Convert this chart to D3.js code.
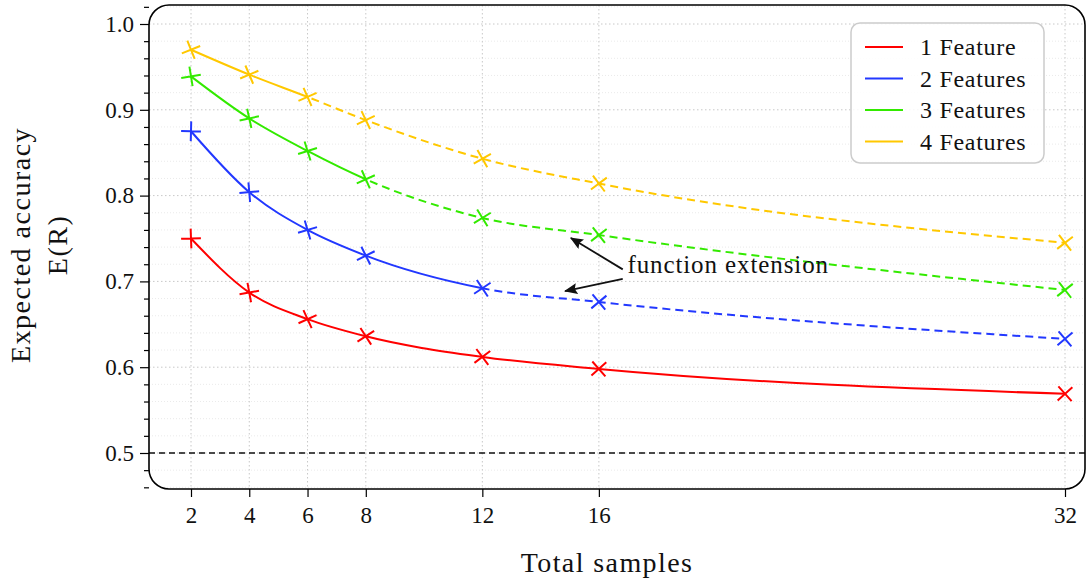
<!DOCTYPE html>
<html>
<head>
<meta charset="utf-8">
<script src="https://cdn.jsdelivr.net/npm/d3@7"></script>
<style>
  body { margin: 0; background: #fff; }
  text { font-family: "Liberation Serif", "DejaVu Serif", serif; fill: #111; }
</style>
</head>
<body>
<svg id="chart"></svg>
<script>
// data
const samples = [2, 4, 6, 8, 12, 16, 32];
const feat1 = [0.750, 0.687, 0.656, 0.636, 0.612, 0.598, 0.569];
const feat2 = [0.875, 0.804, 0.760, 0.730, 0.692, 0.676, 0.633];
const feat3 = [0.939, 0.890, 0.852, 0.819, 0.774, 0.754, 0.690];
const feat4 = [0.970, 0.941, 0.915, 0.888, 0.843, 0.814, 0.745];
const seriesNames = ["1 Feature", "2 Features", "3 Features", "4 Features"];
const seriesColors = ["#ff0000", "#2238ff", "#33ea00", "#ffc800"];
// sample count after which the line is an extension (dashed)
const dashFrom = [Infinity, 12, 8, 6];
const yTicks = [0.5, 0.6, 0.7, 0.8, 0.9, 1.0];

const W = 1086, H = 582;
const box = {left: 149, top: 5, right: 1085, bottom: 489};

const svg = d3.select("#chart").attr("width", W).attr("height", H);

const x = d3.scaleLinear().domain([2, 32]).range([191, 1065]);
const y = d3.scaleLinear().domain([0.5, 1.0]).range([453, 24]);

const allSeries = [feat1, feat2, feat3, feat4].map((vals, i) => ({
  name: seriesNames[i], color: seriesColors[i], dash: dashFrom[i],
  pts: samples.map((s, j) => ({x: s, y: vals[j]}))
}));

// clip for the whole plot area
const defs = svg.append("defs");
defs.append("clipPath").attr("id", "plotclip")
  .append("rect")
  .attr("x", box.left).attr("y", box.top)
  .attr("width", box.right - box.left).attr("height", box.bottom - box.top)
  .attr("rx", 20);

const plot = svg.append("g").attr("clip-path", "url(#plotclip)");

// minor grid
const minor = d3.range(0.46, 1.03, 0.02).filter(v => Math.abs(v * 10 - Math.round(v * 10)) > 0.01);
plot.selectAll(".gminor").data(minor).enter().append("line")
  .attr("x1", box.left).attr("x2", box.right)
  .attr("y1", d => y(d)).attr("y2", d => y(d))
  .attr("stroke", "#e4e4e4").attr("stroke-width", 0.8).attr("stroke-dasharray", "1,2");

// major grid
plot.selectAll(".gy").data(yTicks).enter().append("line")
  .attr("x1", box.left).attr("x2", box.right)
  .attr("y1", d => y(d)).attr("y2", d => y(d))
  .attr("stroke", "#c8c8c8").attr("stroke-width", 1).attr("stroke-dasharray", "1.5,2.5");
plot.selectAll(".gx").data(samples).enter().append("line")
  .attr("y1", box.top).attr("y2", box.bottom)
  .attr("x1", d => x(d)).attr("x2", d => x(d))
  .attr("stroke", "#c8c8c8").attr("stroke-width", 1).attr("stroke-dasharray", "1.5,2.5");

// chance level
plot.append("line")
  .attr("x1", box.left).attr("x2", box.right)
  .attr("y1", y(0.5)).attr("y2", y(0.5))
  .attr("stroke", "#111").attr("stroke-width", 1.5).attr("stroke-dasharray", "6,4");

const line = d3.line().x(d => x(d.x)).y(d => y(d.y)).curve(d3.curveMonotoneX);

allSeries.forEach((s, i) => {
  const split = s.dash === Infinity ? box.right + 10 : x(s.dash);
  defs.append("clipPath").attr("id", "solid" + i)
    .append("rect").attr("x", 0).attr("y", 0).attr("width", split).attr("height", H);
  defs.append("clipPath").attr("id", "dash" + i)
    .append("rect").attr("x", split).attr("y", 0).attr("width", W - split).attr("height", H);
  const g = plot.append("g");
  g.append("path").datum(s.pts).attr("d", line)
    .attr("clip-path", `url(#solid${i})`)
    .attr("fill", "none").attr("stroke", s.color).attr("stroke-width", 2);
  g.append("path").datum(s.pts).attr("d", line)
    .attr("clip-path", `url(#dash${i})`)
    .attr("fill", "none").attr("stroke", s.color).attr("stroke-width", 2)
    .attr("stroke-dasharray", "8,5");
});

// markers: an x rotated along the local direction of the line
allSeries.forEach(s => {
  const P = s.pts.map(p => [x(p.x), y(p.y)]);
  P.forEach((p, j) => {
    const a = P[Math.max(j - 1, 0)], b = P[Math.min(j + 1, P.length - 1)];
    const ang = Math.atan2(b[1] - a[1], b[0] - a[0]) * 180 / Math.PI;
    plot.append("path")
      .attr("d", "M-7,-7L7,7M-7,7L7,-7")
      .attr("transform", `translate(${p[0]},${p[1]}) rotate(${ang})`)
      .attr("stroke", s.color).attr("stroke-width", 2).attr("fill", "none");
  });
});

// frame with rounded corners
svg.append("rect")
  .attr("x", box.left).attr("y", box.top)
  .attr("width", box.right - box.left).attr("height", box.bottom - box.top)
  .attr("rx", 20).attr("fill", "none").attr("stroke", "#000").attr("stroke-width", 1.6);

// axes
svg.append("g").attr("transform", `translate(${box.left},0)`)
  .call(d3.axisLeft(y).tickValues(yTicks).tickFormat(d3.format(".1f")).tickSize(9).tickPadding(6));
svg.append("g").attr("transform", `translate(${box.left},0)`)
  .call(d3.axisLeft(y).tickValues(minor).tickFormat("").tickSize(5));
svg.append("g").attr("transform", `translate(0,${box.bottom})`)
  .call(d3.axisBottom(x).tickValues(samples).tickFormat(d3.format("d")).tickSize(8).tickPadding(10));
svg.selectAll(".domain").remove();
svg.selectAll(".tick line").attr("stroke", "#000").attr("stroke-width", 1.2);
svg.selectAll(".tick text").attr("font-size", 23).attr("font-family", "Liberation Serif").attr("fill", "#111");

// axis titles
svg.append("text").attr("x", 607).attr("y", 572).attr("text-anchor", "middle")
  .attr("font-size", 28).attr("letter-spacing", 1.4).text("Total samples");
svg.append("text").attr("transform", "translate(30,245) rotate(-90)").attr("text-anchor", "middle")
  .attr("font-size", 28).attr("letter-spacing", 1.5).text("Expected accuracy");
svg.append("text").attr("transform", "translate(67,245) rotate(-90)").attr("text-anchor", "middle")
  .attr("font-size", 28).attr("letter-spacing", 1.5).text("E(R)");

// annotation
defs.append("marker").attr("id", "arrow").attr("viewBox", "0 0 12 10")
  .attr("refX", 11).attr("refY", 5).attr("markerWidth", 14).attr("markerHeight", 11)
  .attr("markerUnits", "userSpaceOnUse").attr("orient", "auto")
  .append("path").attr("d", "M0,0L12,5L0,10L2,5Z").attr("fill", "#111");
const arrows = [
  {from: [16.82, 0.7140], to: [15.04, 0.7506]},
  {from: [16.82, 0.7030], to: [14.84, 0.6888]}
];
arrows.forEach(a => {
  svg.append("line")
    .attr("x1", x(a.from[0])).attr("y1", y(a.from[1]))
    .attr("x2", x(a.to[0])).attr("y2", y(a.to[1]))
    .attr("stroke", "#111").attr("stroke-width", 1.8).attr("marker-end", "url(#arrow)");
});
svg.append("text").attr("x", x(16.98)).attr("y", y(0.7096))
  .attr("font-size", 25).attr("letter-spacing", 0.9).text("function extension");

// legend
const lg = svg.append("g").attr("transform", "translate(851,23)");
lg.append("rect").attr("width", 193).attr("height", 140).attr("rx", 9)
  .attr("fill", "#fff").attr("fill-opacity", 0.85).attr("stroke", "#ccc").attr("stroke-width", 1.5);
allSeries.forEach((s, i) => {
  const ly = 24 + i * 31.5;
  lg.append("line").attr("x1", 14).attr("x2", 52).attr("y1", ly).attr("y2", ly)
    .attr("stroke", s.color).attr("stroke-width", 2.2);
  lg.append("text").attr("x", 69).attr("y", ly + 8).attr("font-size", 24)
    .attr("letter-spacing", 0.7).text(s.name);
});
</script>
</body>
</html>
